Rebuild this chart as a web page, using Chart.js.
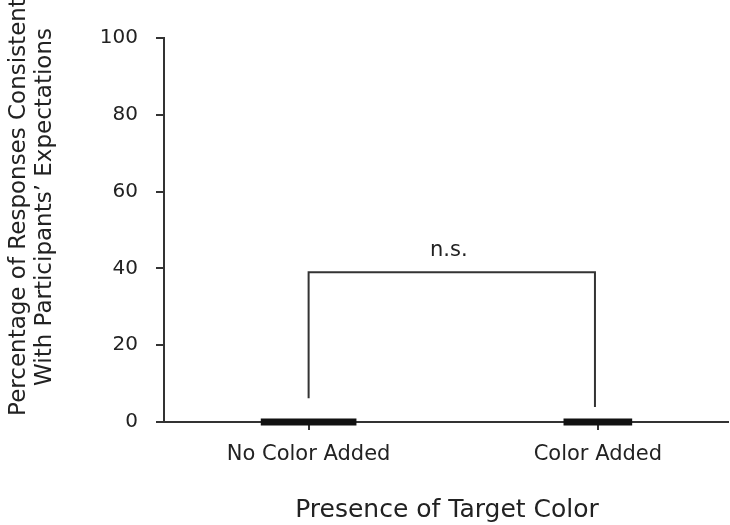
<!DOCTYPE html>
<html>
<head>
<meta charset="utf-8">
<script src="https://cdn.jsdelivr.net/npm/chart.js@4"></script>
<style>
  html, body { margin: 0; padding: 0; background: #fff; }
  #box { width: 730px; height: 525px; }
</style>
</head>
<body>
<div id="box"><canvas id="chart"></canvas></div>
<script>
// datos
const categories = ['No Color Added', 'Color Added'];
const barValues = [0.8, 0.8];
const yTicks = [0, 20, 40, 60, 80, 100];

// llave de comparacion (n.s.)
const bracketX = [1, 1, 1.99, 1.99];
const bracketY = [6.2, 39, 39, 3.9];
const bracketLabel = 'n.s.';

const yTitle = ['Percentage of Responses Consistent', 'With Participants\u2019 Expectations'];
const xTitle = 'Presence of Target Color';

const ink = '#333';
const textInk = '#222';
const font = 'DejaVu Sans';
const barWidths = [95, 68];

/* una serie por barra para poder dar anchos distintos */
const datasets = categories.map((c, i) => ({
  type: 'bar',
  label: c,
  data: [{ x: i + 1, y: barValues[i] }],
  backgroundColor: '#111',
  borderWidth: 0,
  barThickness: barWidths[i],
  grouped: false,
  base: -0.8,
  clip: false
}));

datasets.push({
  type: 'line',
  label: 'bracket',
  data: bracketX.map((x, i) => ({ x: x, y: bracketY[i] })),
  borderColor: ink,
  borderWidth: 2,
  pointRadius: 0,
  tension: 0,
  fill: false,
  clip: false
});

const extraText = {
  id: 'extraText',
  afterDraw(chart) {
    const ctx = chart.ctx;
    const xs = chart.scales.x, ys = chart.scales.y;
    ctx.save();
    ctx.fillStyle = textInk;

    // n.s.
    ctx.font = '21px "' + font + '"';
    ctx.textAlign = 'center';
    ctx.textBaseline = 'alphabetic';
    ctx.fillText(bracketLabel, xs.getPixelForValue((bracketX[1] + bracketX[2]) / 2) - 3, ys.getPixelForValue(bracketY[1]) - 16);

    // titulo eje x
    ctx.font = '25px "' + font + '"';
    ctx.textBaseline = 'middle';
    ctx.fillText(xTitle, 447, 510);

    // titulo eje y (dos lineas)
    ctx.font = '23px "' + font + '"';
    const lx = [19, 45];
    yTitle.forEach((t, i) => {
      ctx.save();
      ctx.translate(lx[i], 207);
      ctx.rotate(-Math.PI / 2);
      ctx.fillText(t, 0, 0);
      ctx.restore();
    });
    ctx.restore();
  }
};

const config = {
  type: 'bar',
  data: { datasets: datasets },
  options: {
    responsive: true,
    maintainAspectRatio: false,
    animation: false,
    layout: { padding: { top: 38, right: 2, left: 0, bottom: 0 } },
    plugins: { legend: { display: false }, tooltip: { enabled: false } },
    scales: {
      x: {
        type: 'linear',
        min: 0.5,
        max: 2.45,
        offset: false,
        afterBuildTicks: (s) => { s.ticks = categories.map((c, i) => ({ value: i + 1 })); },
        afterFit: (s) => { s.height = 103; },
        ticks: {
          callback: (v) => categories[v - 1] || '',
          color: textInk,
          font: { family: font, size: 21 },
          padding: 12,
          maxRotation: 0
        },
        grid: { drawOnChartArea: false, offset: false, tickLength: 8, color: ink, lineWidth: 2 },
        border: { color: ink, width: 2 }
      },
      y: {
        min: 0,
        max: 100,
        afterBuildTicks: (s) => { s.ticks = yTicks.map(v => ({ value: v })); },
        afterFit: (s) => { s.width = 164; },
        ticks: {
          color: textInk,
          font: { family: font, size: 20 },
          padding: 18
        },
        grid: { drawOnChartArea: false, tickLength: 8, color: ink, lineWidth: 2 },
        border: { color: ink, width: 2 }
      }
    }
  },
  plugins: [extraText]
};

const chart = new Chart(document.getElementById('chart'), config);
</script>
</body>
</html>
